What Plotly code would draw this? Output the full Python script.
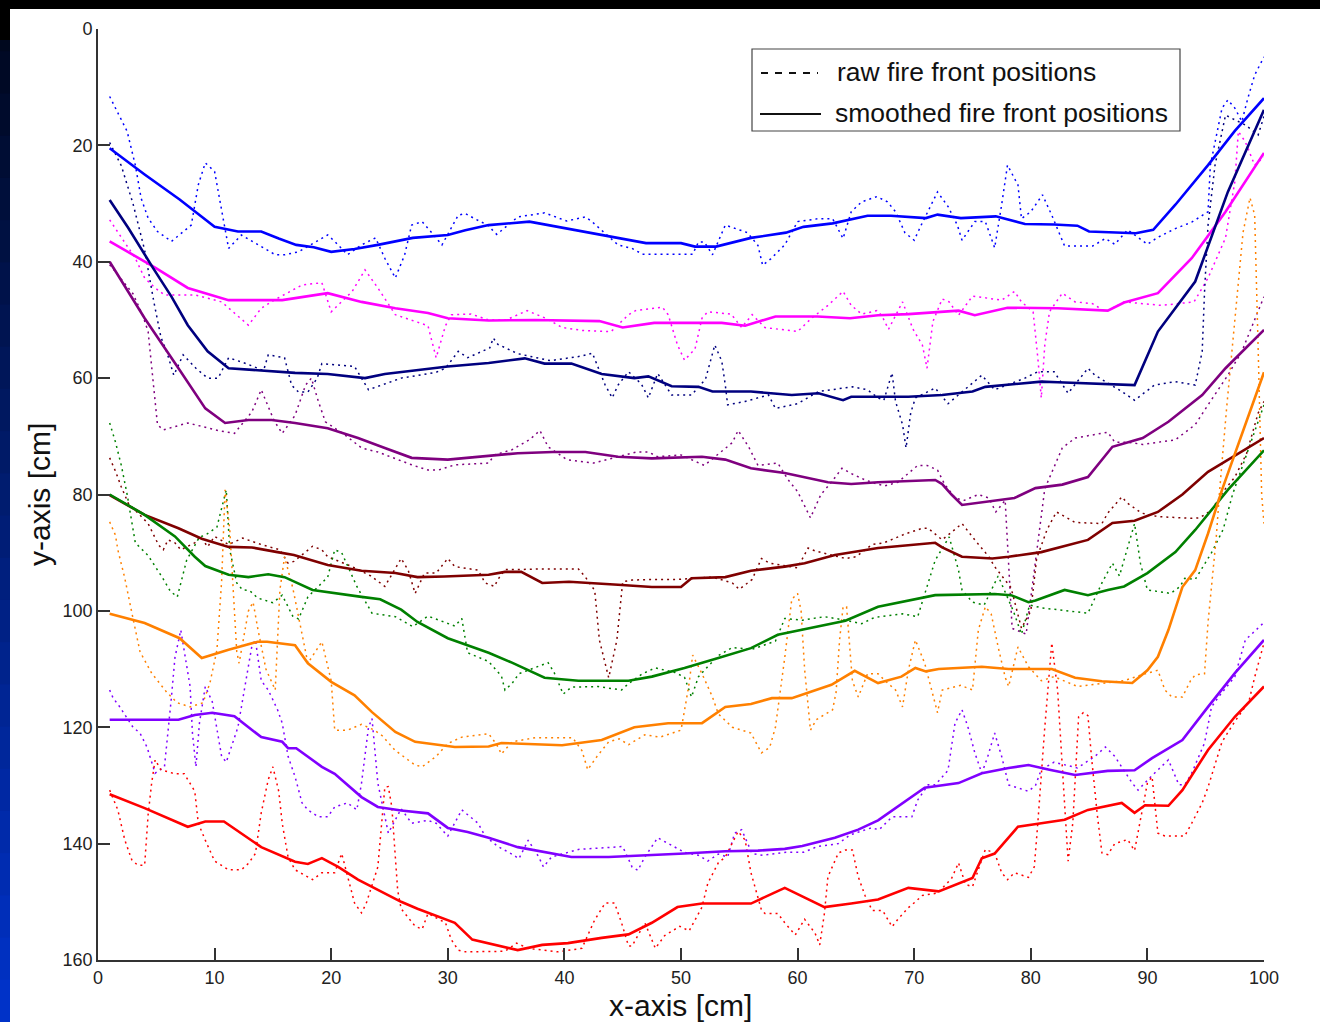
import plotly.graph_objects as go

# ---------------- data (x in cm, y in cm) ----------------
X_TICKS = list(range(0, 101, 10))
Y_TICKS = list(range(0, 161, 20))

LEGEND_LABELS = ["raw fire front positions", "smoothed fire front positions"]

BLUE_SMOOTH = [(1, 20.5), (4, 25), (7, 29.3), (10, 34), (12, 34.8), (14, 34.8), (15.5, 36), (17, 37.1), (18.5, 37.5),
               (20, 38.3), (22, 37.8), (24, 37.1), (27, 35.9), (30, 35.4), (31.5, 34.6), (33.5, 33.7), (37, 33.1),
               (40, 34.2), (42, 35), (44.6, 35.9), (47, 36.8), (50, 36.8), (51.2, 37.4), (53, 37.4), (56, 35.9),
               (59, 35), (60.5, 34), (63, 33.4), (66, 32.1), (68, 32.1), (71, 32.5), (72, 31.9), (74, 32.5),
               (77, 32.2), (79.5, 33.5), (82, 33.6), (84, 33.8), (85, 34.8), (89, 35.1), (90.5, 34.5), (92.4, 30.2),
               (95.2, 23.4), (97.5, 17.5), (100, 11.9)]
BLUE_RAW = [(1, 11.6), (2.5, 17.6), (3.2, 23.4), (3.7, 29.1), (4.3, 32.5), (5.1, 34.8), (6.3, 36.5), (8, 33.7),
            (8.6, 26.8), (9.2, 23), (10, 24.5), (10.5, 30.2), (11.2, 37.7), (12.3, 35.4), (13.7, 37.1), (15.2, 38.8),
            (16, 38.8), (17.2, 38.3), (19.7, 35.4), (20.3, 36.5), (21.4, 38.8), (22.6, 37.1), (23.8, 35.9),
            (24.6, 39.4), (25.5, 42.8), (26.3, 38.8), (26.9, 33.7), (27.8, 33.1), (29, 35.9), (29.5, 37.1),
            (30.9, 32), (31.5, 31.7), (32.3, 32.6), (33.4, 33.7), (34.2, 35.3), (36, 32.3), (38.3, 31.6),
            (39.2, 32.3), (40.2, 33), (41.8, 32.3), (42.3, 33), (44.6, 37.1), (45.8, 37.7), (46.7, 38.7),
            (51, 38.7), (51.5, 36.6), (52, 36.6), (52.7, 38.8), (53.8, 33.7), (55.7, 35), (56.6, 37.2),
            (57, 40.6), (57.7, 39.5), (58.9, 37.1), (59.5, 35), (60, 33.1), (61.8, 32.6), (63, 32.6), (63.9, 36),
            (64.6, 31.4), (65.5, 29.7), (66.8, 28.8), (67.7, 29.7), (68.4, 31.4), (69.2, 35), (70, 36.3),
            (70.6, 33.7), (71.5, 30.2), (72, 28), (72.9, 30.5), (73.7, 33.7), (74.1, 36.3), (75.2, 33.1),
            (76.1, 33.1), (76.9, 37.6), (77.5, 30.2), (78, 23.4), (78.9, 26.8), (79.2, 32.6), (80, 31.4),
            (81, 28.5), (81.8, 32), (82.9, 37.3), (85.3, 37.3), (86.4, 36), (87.2, 37), (88.3, 34.5), (90, 37),
            (90.9, 35.8), (92.4, 34.3), (93.8, 33.2), (95.2, 31.4), (95.4, 23.4), (96.4, 13.6), (96.9, 12.2),
            (97.5, 13.6), (98.1, 15.9), (98.6, 12), (99.2, 7.9), (100, 4.8)]

MAGENTA_SMOOTH = [(1, 36.5), (4.9, 41), (7.7, 44.5), (11.2, 46.6), (14, 46.6), (15.8, 46.6), (19.7, 45.4),
                  (22.6, 46.9), (25.5, 48), (28.3, 48.8), (30, 49.7), (33.5, 50.1), (37.5, 50), (43, 50.2),
                  (45, 51.3), (47.7, 50.5), (53.5, 50.5), (55.5, 51), (58.1, 49.4), (61.7, 49.4), (64.5, 49.7),
                  (66.9, 49.2), (69.5, 49), (73.8, 48.4), (75.2, 49.2), (78, 47.9), (82.3, 48), (86.6, 48.4),
                  (88, 47), (90.9, 45.4), (93.8, 39.4), (96.7, 31.4), (100, 21.3)]
MAGENTA_RAW = [(1, 32.8), (2, 35.9), (3.2, 39.4), (4, 42.8), (4.9, 44.5), (5.7, 45.7), (8.3, 45.7), (10.6, 46.9),
               (11.6, 48.6), (12.9, 50.9), (14, 48), (15.1, 46.6), (17.5, 44), (19.2, 43.6), (20, 48.6),
               (21.8, 45.1), (22.9, 41.4), (24, 44.5), (25.5, 49.1), (27.2, 50.3), (28.3, 51), (29, 56.5),
               (29.8, 51), (30.3, 49.1), (32, 49), (33.5, 50), (35, 50), (36.8, 48.4), (38.4, 49.7), (39.8, 51.3),
               (41.5, 51.8), (44, 52), (45.5, 49.1), (46.1, 48.4), (48.4, 47.8), (48.9, 49.1), (49.7, 54.3),
               (50.3, 56.9), (51.2, 55), (51.8, 49.7), (52.3, 48.6), (54.3, 49), (55.2, 51.3), (56.1, 49.1),
               (57.2, 51.3), (60, 52), (61.2, 49.7), (62.6, 47.5), (63.9, 45.1), (64.6, 47.5), (65.5, 49),
               (66.8, 48.4), (67.2, 49.2), (67.8, 51.6), (69, 46.9), (69.9, 51.6), (70.7, 54.3), (71.1, 58.3),
               (71.6, 50.3), (72.4, 46.4), (73, 46.9), (73.8, 49.2), (75, 45.9), (77.5, 46.6), (78.6, 45.1),
               (79.2, 46.9), (80.2, 48.6), (80.6, 56.5), (80.9, 63.4), (81.2, 54.3), (81.6, 48.6), (82.7, 45.4),
               (83.8, 46.9), (85.3, 47.2), (86.4, 48.6), (88, 46.9), (91.2, 47.5), (94, 46.9), (95.2, 42.8),
               (96.7, 35.9), (97.5, 26.2), (97.8, 17.6), (98.4, 19.4), (99.2, 23.4), (100, 22)]

NAVY_SMOOTH = [(1, 29.4), (2.6, 34.2), (4.7, 41), (6.3, 46), (7.7, 50.9), (9.4, 55.4), (11.2, 58.3), (14, 58.7),
               (16.9, 59.1), (19.7, 59.3), (22.9, 60), (24.6, 59.3), (26.9, 58.8), (30, 58), (33.5, 57.4),
               (36.6, 56.6), (38.3, 57.5), (40.6, 57.5), (43.2, 59.3), (46, 60), (47.2, 59.7), (49.2, 61.4),
               (51.5, 61.5), (52.7, 62.3), (56, 62.3), (59.5, 62.9), (61.8, 62.6), (63.9, 63.8), (64.6, 63.2),
               (69.5, 63.2), (72.4, 62.9), (75, 62.3), (76.1, 61.5), (79.2, 60.9), (80.9, 60.6), (82.3, 60.7),
               (87.2, 61.1), (88.9, 61.2), (90.9, 52), (94.1, 43.4), (96.9, 28), (100, 13.9)]
NAVY_RAW = [(1, 19.5), (2, 23.5), (3, 30), (4, 38), (4.8, 47), (5.4, 53), (5.9, 55.5), (6.5, 59.5), (7.3, 56),
            (8.4, 58.3), (9.4, 60), (10.3, 60), (11.2, 56.5), (12.7, 57.5), (14.2, 58.7), (14.6, 56), (16, 56.5),
            (16.6, 61.2), (17.2, 62.4), (18, 62.4), (18.8, 60), (19.2, 57.5), (22, 58), (23.2, 62), (26, 60),
            (29, 59), (29.8, 58.3), (30.9, 55.4), (31.7, 56.5), (33.6, 54.8), (33.9, 53.1), (34.3, 54.2),
            (36, 55.8), (38.8, 57), (41.5, 56.2), (42.4, 55.7), (43.5, 61.2), (44.1, 63.4), (44.6, 61.2),
            (45.5, 58.9), (46.6, 61), (47.2, 63.4), (48, 59.2), (49.2, 62.9), (50.9, 62.9), (52.1, 60.2),
            (52.9, 54.3), (53.5, 57.1), (53.8, 61.2), (54, 64.6), (55.5, 64), (57.5, 62.9), (58.1, 65.2),
            (60, 64.4), (61.8, 62.3), (64.7, 61.5), (66, 62), (66.9, 63.4), (67.4, 63.8), (68.1, 59.1),
            (68.4, 64), (69, 68), (69.3, 72), (69.7, 66), (70.1, 63.4), (71.8, 61.7), (72.9, 64.4), (75.8, 59.5),
            (76.9, 62), (79.5, 60), (80.6, 58.9), (82, 58.9), (83.2, 62.6), (84.9, 58.3), (85.5, 59.5),
            (87.8, 62.3), (88.9, 63.8), (90.6, 61.2), (92.4, 60.6), (94.1, 61.2), (94.7, 55.4), (94.9, 45.2),
            (95.2, 33.7), (95.8, 23.4), (96.7, 14.8), (98.4, 16.5), (99.5, 18.2), (100, 15)]

PURPLE_SMOOTH = [(1, 40), (4, 49.7), (6.9, 58.3), (9.2, 65.2), (10.9, 67.7), (12.9, 67.2), (14.9, 67.2),
                 (16.9, 67.7), (19.7, 68.6), (22.3, 70.3), (24.6, 72), (26.9, 73.7), (30, 74), (33.5, 73.4),
                 (36, 72.9), (39, 72.7), (41.8, 72.7), (44.6, 73.5), (47.5, 73.8), (51.8, 73.5), (53.8, 74),
                 (56, 75.5), (58.9, 76.3), (62.6, 77.9), (64.6, 78.2), (66.9, 77.9), (71.8, 77.5), (72.4, 78.2),
                 (73.2, 80), (74.1, 81.8), (76, 81.3), (78.6, 80.6), (80.4, 78.9), (82.7, 78.3), (84.9, 77),
                 (87, 71.8), (89.6, 70.3), (91.8, 67.5), (94.7, 62.9), (96.7, 58.3), (100, 51.7)]
PURPLE_RAW = [(1, 40.5), (2, 43), (3, 45.5), (3.8, 49), (4.3, 52), (4.7, 60), (5.1, 68), (5.6, 68.9), (7.7, 67.7),
              (10.3, 69), (11.7, 69.5), (13.2, 65.8), (14, 62), (15.1, 67.3), (15.8, 69.5), (16.9, 66.4),
              (17.8, 61.2), (18.3, 60), (18.9, 64), (19.5, 67.5), (21.2, 69.8), (22.6, 72), (24, 72.7),
              (26.9, 74.9), (28.3, 75.8), (29.2, 75.8), (30.6, 74.9), (33.5, 74.6), (34, 73.2), (35.5, 72.3),
              (37, 70.6), (37.9, 69), (38.6, 71.8), (40.2, 74), (42.5, 74.6), (46.2, 72.7), (47.2, 72.7),
              (48, 73.5), (50, 73.2), (52, 75), (53.2, 73), (54.4, 71.1), (54.9, 69), (55.8, 71.8), (56.6, 75),
              (58.3, 74.6), (59.2, 77.5), (60, 79.5), (61.1, 84), (62, 80), (62.9, 77.9), (63.8, 75.5),
              (64.6, 76.4), (65.8, 77.5), (66.8, 78.2), (67.5, 78.5), (68.6, 77.9), (69.5, 76.4), (70.3, 75),
              (71.1, 75), (72, 75.8), (72.6, 78.2), (73.5, 80.6), (74.3, 81), (75.5, 80), (76.4, 80.6), (77, 83),
              (77.8, 81), (78.4, 103), (79.6, 104), (80.6, 88), (81.2, 79), (82.7, 72), (83.8, 70.3), (86.6, 69.3),
              (87.2, 71), (88.3, 71), (89.6, 71.4), (92.4, 70.6), (94.1, 68), (95.2, 64.6), (96.9, 59.5),
              (98.1, 55.4), (99, 50.9), (100, 46)]

MAROON_SMOOTH = [(1, 80.1), (4, 83.5), (6.9, 85.8), (8.9, 87.6), (11.2, 89), (13.2, 89.1), (15.4, 89.9),
                 (16.8, 90.4), (19.7, 92.1), (22.6, 93.1), (25.5, 93.5), (27.4, 94.2), (29.7, 94.1), (33.5, 93.8),
                 (34.9, 93.3), (36.3, 93.3), (38.1, 95.2), (40.4, 95), (44.6, 95.5), (47.5, 95.9), (50, 95.9),
                 (50.9, 94.4), (53.8, 94.2), (56, 93.1), (58.9, 92.4), (60.6, 91.8), (63.2, 90.4), (66.9, 89.2),
                 (71.8, 88.3), (72.4, 89.1), (74.1, 90.7), (76.7, 91), (78.1, 90.7), (80.9, 89.9), (84.9, 87.8),
                 (87, 84.9), (88.9, 84.5), (90.9, 83), (93, 80), (95.2, 76.1), (100, 70.3)]
MAROON_RAW = [(1, 73.7), (1.5, 76), (2, 78.7), (2.6, 81.5), (4.3, 85), (5.2, 88.7), (5.6, 89.5), (6, 87.8),
              (6.6, 88.3), (7.1, 89.5), (8.3, 88.3), (8.8, 87.2), (9.4, 89), (10, 87.2), (11.2, 88.6), (12.4, 87.5),
              (14, 88.6), (15.6, 89.5), (16.3, 91.8), (16.8, 91.5), (18.4, 88.9), (19.2, 89.5), (19.7, 90.7),
              (21.8, 92.4), (23.4, 94), (24.6, 95.8), (26, 91), (26.6, 93), (27.2, 97), (28, 93.5), (29, 93.5),
              (30, 91), (30.6, 92.4), (32.6, 93), (33.2, 95.2), (34, 95.8), (34.3, 94.6), (34.9, 92.9), (36, 92.9),
              (37.7, 92.8), (41.2, 92.8), (41.8, 94.2), (42.6, 96.5), (43, 105), (43.8, 111.5), (44.5, 105),
              (45, 95), (45.8, 94.7), (47.6, 94.6), (49.6, 94.6), (52.7, 94.2), (54.4, 95.2), (55, 96.3),
              (56.1, 94.6), (56.9, 91), (57.6, 91.8), (60, 92.6), (60.9, 89.2), (61.5, 89.7), (64.1, 91),
              (65, 90.7), (66.4, 88.6), (67.4, 88.3), (69.2, 86.8), (70.7, 85.8), (71.2, 85.8), (72.4, 87.8),
              (74.1, 85), (75.2, 87.8), (76.4, 90.7), (76.9, 92.4), (78.3, 96), (79.2, 103), (80, 100),
              (80.5, 91), (81.4, 86), (82.2, 83), (83.8, 84.8), (86.1, 85), (86.6, 83.2), (87.8, 80.4),
              (88.3, 81.5), (89.5, 83.2), (90.9, 83.8), (93.8, 84.1), (94.5, 84), (95.5, 82.7), (96.5, 79.5),
              (97.5, 77), (98.5, 73), (99.5, 66), (100, 64)]

GREEN_SMOOTH = [(1, 80), (4, 83.5), (6.6, 87.2), (8.3, 90.7), (9.2, 92.3), (11.2, 93.8), (12.9, 94.2), (14.6, 93.7),
                (16, 94.2), (18.4, 96.4), (22.6, 97.6), (24.2, 98), (26, 99.8), (27.4, 101.9), (30, 104.7),
                (33.5, 107.2), (35.5, 108.9), (38.3, 111.5), (41.2, 112), (45.5, 112), (47.5, 111.3),
                (50.3, 109.8), (53.2, 108.1), (56, 106.4), (58.3, 104.1), (61.7, 102.7), (64.1, 101.7),
                (66.9, 99.3), (68.9, 98.5), (71.8, 97.3), (76.9, 97.1), (78.3, 97.3), (79.8, 98.5), (80.4, 98.2),
                (82.9, 96.4), (84.9, 97.3), (86.6, 96.4), (88, 95.8), (90, 93.5), (92.4, 89.9), (94.1, 86.1),
                (96.9, 79.2), (100, 72.4)]
GREEN_RAW = [(1, 67.7), (1.5, 71), (2, 75), (2.5, 80), (3.2, 88.3), (4.3, 90.5), (5.5, 94.2), (6.2, 96.6),
             (6.8, 97.6), (7.6, 91.3), (8.7, 87.3), (9.2, 87), (10.2, 85.6), (11, 79.2), (11.3, 89.5), (11.9, 95.2),
             (12.4, 96.4), (13, 96.5), (13.7, 97.8), (15, 98.6), (15.8, 97.3), (16.7, 100.9), (17.2, 101.4),
             (18, 97.6), (19.7, 94.2), (20.3, 89.5), (20.9, 90), (21.8, 94.2), (22.2, 95.8), (23.5, 100.4),
             (25.5, 101), (27, 102.7), (28.3, 100.9), (30.6, 102.6), (31.2, 101.3), (31.7, 107.2), (33.5, 108.7),
             (34.6, 111.2), (34.9, 113.6), (35.5, 112.5), (36.1, 110.8), (36.9, 110.2), (38.6, 108.9),
             (39.1, 110.5), (39.9, 114.3), (40.6, 113.1), (42.9, 113), (44.9, 113.6), (45.5, 112.5),
             (46.7, 110.8), (47.8, 109.8), (49.5, 110.6), (50.3, 111.4), (50.9, 114.8), (51.5, 111.3),
             (52.1, 110), (53.2, 107.7), (54.4, 106.3), (56.1, 106.6), (58.1, 105.2), (58.9, 101.3),
             (60.4, 101.6), (62.3, 101), (64.1, 101.6), (65.5, 102.2), (66.4, 101.3), (67, 101), (69, 100.5),
             (70.3, 101), (71.8, 91.3), (73, 87.3), (73.8, 93), (74.1, 96.4), (75, 98.5), (76, 99), (77.2, 94),
             (78.5, 100), (79.2, 104), (79.9, 99), (81, 99.5), (84.9, 100.4), (86.1, 95.2), (87, 91.8),
             (87.6, 94), (88.9, 85), (89.4, 91.8), (90, 96.4), (92, 97), (92.8, 95.8), (93.2, 94.4), (94.1, 94.6),
             (95.5, 90), (96.5, 86), (97.3, 80), (98.1, 75.5), (100, 64.6)]

ORANGE_SMOOTH = [(1, 100.5), (4, 102.1), (7, 104.7), (8.9, 108.1), (11.2, 106.7), (13.7, 105.3), (14.5, 105.3),
                 (16.9, 105.9), (18, 109), (20, 112.2), (22, 114.5), (23.5, 117.4), (25.5, 120.8), (27.2, 122.5),
                 (30.6, 123.4), (33.5, 123.3), (34.6, 122.7), (39.8, 123.1), (43.2, 122.2), (46, 120),
                 (48.9, 119.3), (51.8, 119.3), (53.8, 116.5), (56, 116), (57.8, 115), (59.5, 115), (62.9, 112.7),
                 (64.9, 110.3), (66.9, 112.4), (68.9, 111.3), (70.1, 109.8), (71, 110.4), (72.1, 110),
                 (75.8, 109.6), (78.1, 110), (81.8, 110), (83.8, 111.5), (86.1, 112.1), (88.7, 112.4), (90, 110.2),
                 (90.9, 107.9), (91.8, 103.3), (93, 95.9), (94.1, 93), (95.2, 86.7), (96.4, 79.2), (100, 59)]
ORANGE_RAW = [(1, 84.7), (1.5, 87), (1.7, 89.5), (2.3, 94.4), (2.9, 100.3), (3.6, 107), (4.6, 110.7), (5.9, 114),
              (6.8, 115.8), (7.9, 116.5), (9, 115.8), (9.6, 112.4), (10.2, 106.7), (10.6, 95), (10.9, 79.2),
              (11.3, 86), (11.9, 107), (12.1, 109), (12.9, 100), (13.3, 98.5), (13.7, 103), (14.4, 110),
              (15.2, 113.6), (15.6, 96.4), (16, 90.7), (16.7, 96), (17.6, 105), (18, 109), (19.2, 105.3),
              (20, 112), (20.3, 120.5), (21.4, 120.5), (22.6, 119.5), (23.7, 120.5), (24.4, 121.5), (25.5, 124),
              (27.2, 126.5), (27.8, 126.8), (29, 125), (30, 122.8), (31.2, 121.7), (33.5, 121.1), (34.2, 123),
              (34.6, 124.6), (35.5, 122.5), (37.5, 121.8), (40.7, 121.8), (41.5, 124), (42, 127.3), (42.8, 125),
              (43.8, 122.5), (44.7, 122), (45.5, 123), (46.9, 121.3), (48.2, 121.7), (50, 120.5), (50.4, 116),
              (50.7, 112.4), (51, 107.6), (51.8, 110.8), (52.7, 114.8), (53.2, 117.7), (54.4, 120),
              (55.2, 120.5), (56, 121), (56.9, 124.4), (57.6, 123.5), (58.1, 120), (58.4, 115.8), (58.9, 108),
              (59.5, 98), (60, 97), (60.3, 100), (60.6, 110), (61.1, 120.5), (61.6, 118.7), (63, 117),
              (63.3, 114), (63.6, 105), (63.9, 99.3), (64.2, 99.3), (64.7, 112), (65.2, 114.8), (66, 110.8),
              (66.9, 110.8), (67.5, 112), (68.4, 113.6), (69, 116.5), (69.5, 110.2), (70.1, 105), (70.9, 109),
              (71.5, 113.6), (72, 117.5), (72.4, 113.6), (74, 112.8), (75, 113.6), (75.5, 103.3), (76.1, 99.3),
              (76.6, 100.5), (77.2, 106.2), (77.8, 111.4), (78.1, 113), (78.9, 106.2), (79.8, 109.6), (80.9, 112),
              (82, 111.3), (84, 113), (86, 112.5), (88, 112), (89.5, 111), (90.9, 110.2), (91.5, 113.6),
              (92.1, 114.8), (93, 114.8), (93.7, 112), (94.1, 111), (94.9, 110.8), (95.2, 102), (95.6, 93.5),
              (95.9, 87.5), (96.2, 79.2), (96.8, 65), (97.5, 50), (98.2, 35), (98.8, 29), (99.2, 32), (99.5, 55),
              (99.8, 80), (100, 85)]

VIOLET_SMOOTH = [(1, 118.7), (6.9, 118.7), (8.3, 117.9), (9.8, 117.5), (11.7, 118.1), (12.9, 119.9), (14, 121.7),
                 (15.8, 122.5), (16.3, 123.6), (17, 123.6), (19.2, 126.8), (20.3, 128), (22.6, 132), (24, 133.7),
                 (26, 134.3), (28.3, 134.8), (30, 137.3), (31.7, 138), (33.5, 139), (36, 140.6), (38.9, 141.6),
                 (40.6, 142.3), (43.8, 142.3), (47.5, 142), (50.3, 141.7), (53.8, 141.3), (56.6, 141.2),
                 (58.9, 140.9), (60.4, 140.4), (63.2, 139), (65.2, 137.6), (66.9, 136), (69, 133), (70.9, 130.4),
                 (73.8, 129.6), (75.8, 127.9), (78.1, 127), (79.8, 126.5), (81.6, 127.3), (83.8, 128.2),
                 (86.6, 127.5), (88.9, 127.4), (90.4, 125.3), (93, 122.2), (95.2, 116.5), (97.5, 110.7), (100, 105)]
VIOLET_RAW = [(1, 113.6), (1.3, 115), (1.8, 116.3), (3, 120), (3.6, 121), (4.2, 123.4), (4.9, 127.9), (5.7, 126.8),
              (6.3, 114.8), (6.6, 108), (7.1, 103.3), (7.5, 108), (7.9, 113), (8.1, 121), (8.4, 126.8),
              (8.7, 119.3), (9.2, 113), (9.8, 115.6), (10.2, 120), (10.6, 125), (11, 126), (12, 120), (13.2, 106),
              (13.5, 105), (14, 112), (14.6, 113.6), (15.4, 117), (15.8, 119.3), (16.3, 125), (16.9, 128.5),
              (17.5, 133), (18, 134.2), (18.9, 135.4), (19.7, 135.4), (20.3, 133.7), (21.4, 133), (22.2, 134.2),
              (22.6, 129.6), (23.2, 120), (23.5, 118.5), (24, 129.6), (24.9, 138.2), (26, 134), (26.9, 136.5),
              (28.3, 136), (29, 136.5), (30, 138.7), (31.2, 134.2), (32.6, 136.5), (33.2, 138.7), (34.3, 140.5),
              (35.5, 141.8), (36.1, 142.6), (36.9, 139.4), (37.8, 142.3), (38.2, 144), (38.9, 142.3), (40, 141.7),
              (41.2, 141), (45, 140.5), (45.8, 144), (46.3, 144.6), (46.9, 142.3), (48, 139), (50.3, 141.5),
              (51.5, 142), (52.3, 143), (53.2, 141.8), (54, 142.3), (54.6, 138.2), (55.2, 137.6), (56.1, 141.7),
              (57, 142), (59, 141.5), (60.5, 141.5), (61.7, 140.5), (63.5, 140), (64.5, 138.5), (66.3, 137.3),
              (67, 137.6), (68.1, 135.4), (69.8, 135.4), (70.3, 132.5), (71.2, 129.9), (71.8, 129.9),
              (72.9, 127.4), (73.5, 119.3), (74.1, 117), (74.6, 119.9), (75.2, 124.4), (75.8, 127.9),
              (76.3, 125.1), (76.9, 121), (77.5, 125), (78.1, 129.9), (79, 130.5), (79.8, 131), (80.4, 130),
              (80.9, 127.3), (82, 126), (84, 127), (85.5, 125), (86.4, 123.4), (87.2, 125), (88.7, 129.6),
              (89.2, 130.8), (90.3, 128.5), (91.8, 125.6), (92.7, 129.9), (93.2, 129.9), (93.8, 127.9),
              (94.9, 122.7), (95.5, 116.5), (96.1, 114.8), (97.5, 111.3), (98.4, 105), (100, 102)]

RED_SMOOTH = [(1, 131.5), (4, 133.9), (7.7, 137.1), (9.2, 136.2), (10.8, 136.2), (14, 140.6), (16.9, 143.1),
              (18, 143.5), (19.2, 142.5), (20.6, 144), (22.3, 146.2), (26, 150), (27.4, 151.2), (30.6, 153.6),
              (32.1, 156.5), (33.5, 157.1), (36, 158.3), (38.1, 157.4), (40.3, 157.1), (43.2, 156.2),
              (45.5, 155.6), (47.5, 153.6), (49.7, 150.9), (51.8, 150.3), (56, 150.3), (58.9, 147.6),
              (62.3, 150.9), (64.6, 150.3), (66.9, 149.6), (69.5, 147.6), (72.1, 148.2), (75, 145.9),
              (75.8, 142.5), (76.9, 141.7), (78.9, 137.1), (80.9, 136.5), (82.9, 135.9), (84.9, 134.2),
              (87.8, 133), (88.9, 134.7), (89.8, 133.4), (91.8, 133.5), (93, 130.8), (95.2, 123.9),
              (97.5, 118.2), (100, 113)]
RED_RAW = [(1, 130.8), (1.7, 134.2), (2.3, 139.4), (2.9, 142.8), (3.4, 143.7), (4, 143.7), (4.3, 135),
           (4.6, 129.6), (4.9, 125.6), (5.4, 127.3), (6.6, 128), (7.4, 128), (8.3, 131), (8.6, 136.5), (9.2, 139.4),
           (10, 143), (11.2, 144.5), (12.3, 144.5), (12.9, 143.4), (13.5, 141.7), (14, 134.7), (14.6, 129),
           (15, 126.8), (15.5, 131), (15.8, 136.5), (16.3, 142.3), (16.9, 144.5), (18.4, 146.2), (19.2, 145),
           (20.3, 145), (20.9, 141.7), (21.4, 145.7), (22, 150.2), (22.6, 151.9), (23, 150.3), (24, 144),
           (24.6, 130.3), (24.9, 130.2), (25.2, 133.7), (25.7, 148), (26, 151.2), (27.2, 154.2), (27.8, 154.7),
           (28.3, 152), (29.8, 153.6), (30.3, 156.5), (30.9, 158.3), (31.5, 158.6), (33.5, 158.6), (34.9, 158.5),
           (35.9, 157.1), (36.9, 158), (39.4, 158.6), (41.5, 158), (42.6, 153.1), (43.5, 150.2), (44.3, 150.2),
           (44.9, 153.6), (45.5, 157.6), (45.8, 157.6), (46.9, 153.6), (47.8, 158), (48.6, 155.8), (49.9, 154.2),
           (50.7, 155), (51.8, 150.9), (52.3, 146.8), (53.2, 143.3), (53.8, 142.3), (54.9, 137.9), (55.5, 139.4),
           (56, 145), (56.9, 151.4), (57.2, 152), (58.3, 152), (58.9, 153.6), (59.8, 155.7), (60.6, 153),
           (61.5, 155.4), (61.9, 157.4), (62.3, 152), (62.6, 145.7), (63.5, 141.6), (64.1, 141.1), (64.7, 141.1),
           (65.2, 145.7), (65.8, 149), (66.4, 151.5), (67.3, 151.5), (68.1, 154.3), (68.6, 153), (69.5, 151),
           (70.1, 150), (70.7, 148.9), (72, 148.5), (73.2, 146), (73.8, 143.3), (74.4, 147), (75, 147.4),
           (76.1, 141), (76.9, 141.6), (77.5, 145), (78, 146.2), (78.6, 145), (79.8, 145.8), (80.3, 144),
           (80.6, 136.5), (81.2, 120), (81.8, 105.5), (82.3, 113.6), (82.8, 130), (83.2, 143), (83.6, 136.5),
           (84.1, 118.2), (84.5, 117.5), (84.9, 118), (85.2, 125), (85.7, 135), (86.1, 141.6), (86.6, 141.9),
           (87.2, 140), (88.3, 139.3), (88.9, 141.2), (89.5, 135), (90, 129.6), (90.4, 128.5), (90.9, 138.2),
           (91.5, 138.7), (93.2, 138.7), (93.8, 136.5), (94.7, 133), (95.2, 130.3), (96.4, 122.5), (97.5, 119),
           (98.7, 115.6), (99.2, 111.4), (100, 105.5)]

# colour, raw data, smoothed data
SERIES = [
    ("#0000ff", BLUE_RAW, BLUE_SMOOTH),
    ("#ff00ff", MAGENTA_RAW, MAGENTA_SMOOTH),
    ("#00007f", NAVY_RAW, NAVY_SMOOTH),
    ("#7f007f", PURPLE_RAW, PURPLE_SMOOTH),
    ("#7f0000", MAROON_RAW, MAROON_SMOOTH),
    ("#008000", GREEN_RAW, GREEN_SMOOTH),
    ("#ff8000", ORANGE_RAW, ORANGE_SMOOTH),
    ("#8000ff", VIOLET_RAW, VIOLET_SMOOTH),
    ("#ff0000", RED_RAW, RED_SMOOTH),
]

# ---------------- figure ----------------
W, H = 1320, 1022
ML, MR, MT, MB = 98, 56, 29, 62
PW, PH = W - ML - MR, H - MT - MB


def pxx(px):
    return (px - ML) / PW


def pxy(py):
    return (H - MB - py) / PH


FONT = "Liberation Sans, Arial, Helvetica, sans-serif"

fig = go.Figure()
for color, raw, smooth in SERIES:
    fig.add_trace(go.Scatter(x=[p[0] for p in raw], y=[p[1] for p in raw], mode="lines",
                             line=dict(color=color, width=1.5, dash="2px,4px"),
                             showlegend=False, hoverinfo="skip"))
for color, raw, smooth in SERIES:
    fig.add_trace(go.Scatter(x=[p[0] for p in smooth], y=[p[1] for p in smooth], mode="lines",
                             line=dict(color=color, width=2.6),
                             showlegend=False, hoverinfo="skip"))

shapes = []
# dark slide frame: top black strip and left blue gradient strip
shapes.append(dict(type="rect", xref="paper", yref="paper", x0=pxx(0), x1=pxx(W), y0=pxy(9), y1=pxy(0),
                   fillcolor="#000000", line=dict(width=0), layer="above"))
n = 24
for i in range(n):
    t = i / (n - 1)
    g = int(8 + t * (50 - 8))
    b = int(30 + t * (200 - 30))
    y_top = 9 + (H - 9) * i / n
    y_bot = 9 + (H - 9) * (i + 1) / n
    shapes.append(dict(type="rect", xref="paper", yref="paper", x0=pxx(0), x1=pxx(10),
                       y0=pxy(y_bot + 1), y1=pxy(y_top), fillcolor=f"rgb(0,{g},{b})",
                       line=dict(width=0), layer="above"))
shapes.append(dict(type="rect", xref="paper", yref="paper", x0=pxx(0), x1=pxx(10), y0=pxy(40), y1=pxy(0),
                   fillcolor="#000000", line=dict(width=0), layer="above"))

# legend box
shapes.append(dict(type="rect", xref="paper", yref="paper", x0=pxx(752), x1=pxx(1180), y0=pxy(131), y1=pxy(49),
                   fillcolor="white", line=dict(color="#444444", width=1.2), layer="above"))
shapes.append(dict(type="line", xref="paper", yref="paper", x0=pxx(761), x1=pxx(818), y0=pxy(73), y1=pxy(73),
                   line=dict(color="#111111", width=2, dash="7px,7px"), layer="above"))
shapes.append(dict(type="line", xref="paper", yref="paper", x0=pxx(760), x1=pxx(821), y0=pxy(114), y1=pxy(114),
                   line=dict(color="#111111", width=2.2), layer="above"))

annotations = [
    dict(text=LEGEND_LABELS[0], xref="paper", yref="paper", x=pxx(835), y=pxy(72), xanchor="left",
         yanchor="middle", showarrow=False, font=dict(family=FONT, size=26.5, color="#111111")),
    dict(text=LEGEND_LABELS[1], xref="paper", yref="paper", x=pxx(833), y=pxy(113), xanchor="left",
         yanchor="middle", showarrow=False, font=dict(family=FONT, size=26.5, color="#111111")),
    dict(text="x-axis [cm]", xref="paper", yref="paper", x=pxx(680), y=pxy(1005), xanchor="center",
         yanchor="middle", showarrow=False, font=dict(family=FONT, size=30, color="#111111")),
    dict(text="y-axis [cm]", xref="paper", yref="paper", x=pxx(40), y=pxy(495), xanchor="center",
         yanchor="middle", showarrow=False, textangle=-90, font=dict(family=FONT, size=30, color="#111111")),
]

fig.update_layout(
    width=W, height=H,
    margin=dict(l=ML, r=MR, t=MT, b=MB, pad=0),
    paper_bgcolor="white", plot_bgcolor="white",
    showlegend=False,
    shapes=shapes,
    annotations=annotations,
    font=dict(family=FONT, size=18, color="#222222"),
)
fig.update_xaxes(range=[0, 100], tickvals=X_TICKS, ticks="inside", ticklen=12, tickwidth=1.5,
                 tickcolor="#333333", showline=True, linecolor="#333333", linewidth=1.8,
                 showgrid=False, zeroline=False, mirror=False, automargin=False,
                 tickfont=dict(family=FONT, size=18, color="#222222"))
fig.update_yaxes(range=[160, 0], tickvals=Y_TICKS, ticks="inside", ticklen=12, tickwidth=1.5,
                 tickcolor="#333333", showline=True, linecolor="#333333", linewidth=1.8,
                 showgrid=False, zeroline=False, mirror=False, automargin=False,
                 tickfont=dict(family=FONT, size=18, color="#222222"))

fig.write_html("out.html")
